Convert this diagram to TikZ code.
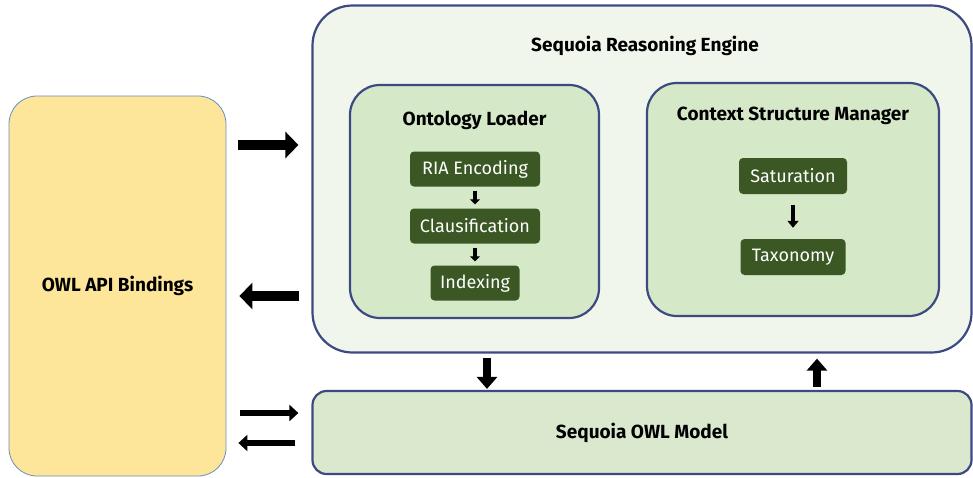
\documentclass[tikz,border=0pt]{standalone}
\usepackage{fontspec}
\setmainfont{Fira Sans}
\usetikzlibrary{arrows.meta}
\definecolor{apifill}{HTML}{FDE59A}
\definecolor{apiline}{HTML}{6C8EBF}
\definecolor{engfill}{HTML}{F0F6EC}
\definecolor{navy}{HTML}{3D4A82}
\definecolor{innerfill}{HTML}{D5E8C8}
\definecolor{modfill}{HTML}{DAE9CE}
\definecolor{dkgreen}{HTML}{3A5724}
\tikzset{
  box/.style={draw=navy, line width=2.2pt, rounded corners=#1, inner sep=0pt},
  stepbox/.style={fill=dkgreen, rounded corners=4pt, text=white, font=\fontsize{18}{20}\selectfont, minimum height=35pt, inner sep=0pt},
  title/.style={font=\bfseries\fontsize{19}{22}\selectfont},
  bigarrow/.style={line width=10pt, -{Triangle[width=26pt,length=13pt]}},
  medarrow/.style={line width=6pt, -{Triangle[width=16pt,length=9pt]}},
  vertarrow/.style={line width=8pt, -{Triangle[width=20pt,length=12pt]}},
  smallarrow/.style={line width=4pt, -{Triangle[width=10pt,length=5pt]}},
}
\begin{document}
\begin{tikzpicture}[x=1pt,y=-1pt]
\useasboundingbox (0,0) rectangle (973,477);
% OWL API Bindings
\node[draw=apiline, fill=apifill, line width=0.8pt, rounded corners=28pt, minimum width=217pt, minimum height=380pt, inner sep=0pt,
  title] (api) at (117.5,286) {OWL API Bindings};
% Engine
\node[box=40pt, fill=engfill, minimum width=659pt, minimum height=347pt] (eng) at (642,179) {};
\node[title] (engt) at (645,46) {Sequoia Reasoning Engine};
% Ontology Loader
\node[box=30pt, fill=innerfill, minimum width=249pt, minimum height=233pt] (ol) at (474.5,201.5) {};
\node[title] (olt) at (474.5,120) {Ontology Loader};
\node[stepbox, minimum width=130pt] (ria) at (475,169) {RIA Encoding};
\node[stepbox, minimum width=130pt] (cla) at (475,226) {Clausification};
\node[stepbox, minimum width=89pt] (idx) at (475,283) {Indexing};
\draw[smallarrow, shorten <=4pt, shorten >=4pt] (ria) -- (cla);
\draw[smallarrow, shorten <=4pt, shorten >=4pt] (cla) -- (idx);
% Context Structure Manager
\node[box=30pt, fill=innerfill, minimum width=292pt, minimum height=233pt] (csm) at (793,199.5) {};
\node[title] (csmt) at (793,116) {Context Structure Manager};
\node[stepbox, minimum width=108pt, minimum height=36pt] (sat) at (793,176) {Saturation};
\node[stepbox, minimum width=105pt, minimum height=36pt] (tax) at (793,257) {Taxonomy};
\draw[line width=4.5pt, -{Triangle[width=11pt,length=7pt]}, shorten <=11pt, shorten >=11pt] (sat) -- (tax);
% Model
\node[box=14pt, fill=modfill, minimum width=659pt, minimum height=83pt, title] (mod) at (642,432.5) {Sequoia OWL Model};
% arrows between API and engine
\draw[bigarrow, shorten <=12pt, shorten >=13pt] (api.east |- 0,145) -- (eng.west |- 0,145);
\draw[bigarrow, shorten <=12pt, shorten >=13pt] (eng.west |- 0,296) -- (api.east |- 0,296);
\draw[medarrow, shorten <=14pt, shorten >=13pt] (api.east |- 0,413) -- (mod.west |- 0,413);
\draw[medarrow, shorten <=16pt, shorten >=12pt] (mod.west |- 0,443) -- (api.east |- 0,443);
% arrows between engine and model
\draw[vertarrow, shorten <=4pt, shorten >=1pt] (eng.south -| 487,0) -- (mod.north -| 487,0);
\draw[vertarrow, shorten <=3pt, shorten >=5pt] (mod.north -| 817,0) -- (eng.south -| 817,0);
\end{tikzpicture}
\end{document}
